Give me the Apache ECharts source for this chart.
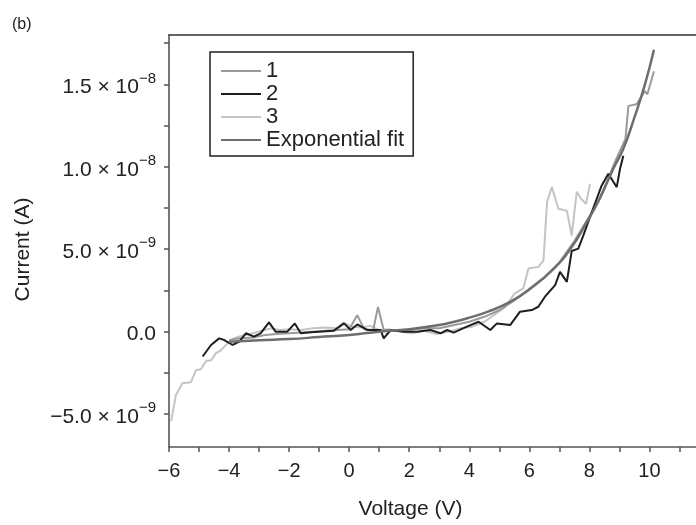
<!DOCTYPE html>
<html>
<head>
  <meta charset="utf-8" />
  <title>I-V curve</title>
  <script src="https://cdn.jsdelivr.net/npm/echarts@6.0.0/dist/echarts.min.js"></script>
  <style>
    html, body { margin: 0; padding: 0; background: #fff; }
    #chart { width: 696px; height: 525px; }
  </style>
</head>
<body>
  <div id="chart"></div>
  <script type="text/javascript">
    // current values are in units of 1e-9 A
    const legendNames = ["1", "2", "3", "Exponential fit"]

    const series1 = [
      [-4.0, -0.5], [-3.6, -0.4], [-3.2, -0.35], [-2.8, -0.2], [-2.4, -0.15], [-2.0, -0.1],
      [-1.6, -0.05], [-1.2, 0], [-0.8, 0.05], [-0.4, 0.1], [0, 0.15], [0.27, 1.0], [0.5, 0.15],
      [0.8, 0.1], [0.96, 1.5], [1.15, 0.1], [1.5, 0.05], [2.0, 0.1], [2.5, 0.2], [3.0, 0.2],
      [3.5, 0.4], [4.0, 0.6], [4.5, 0.9], [5.0, 1.3], [5.5, 1.9], [6.0, 2.6], [6.5, 3.3],
      [7.0, 4.2], [7.5, 5.5], [8.0, 7.0], [8.3, 7.9], [8.6, 9.2], [8.9, 10.5], [9.2, 11.7],
      [9.3, 13.7], [9.57, 13.8], [9.85, 14.6], [9.93, 14.4], [10.15, 15.8]
    ]

    const series2 = [
      [-4.88, -1.51], [-4.6, -0.81], [-4.33, -0.41], [-4.16, -0.51], [-3.88, -0.81], [-3.66, -0.6],
      [-3.44, -0.1], [-3.17, -0.3], [-2.95, -0.1], [-2.67, 0.56], [-2.45, 0], [-2.06, 0],
      [-1.81, 0.5], [-1.61, -0.1], [-1.28, -0.04], [-0.51, 0.06], [-0.17, 0.5], [0.05, 0.1],
      [0.27, 0.44], [0.6, 0.1], [1.05, 0.1], [1.15, -0.41], [1.38, 0.1], [1.82, 0], [2.26, 0],
      [2.7, 0.1], [3.04, -0.1], [3.26, 0.1], [3.48, -0.06], [3.92, 0.3], [4.31, 0.6], [4.7, 0.1],
      [4.92, 0.5], [5.36, 0.4], [5.69, 1.21], [6.08, 1.31], [6.3, 1.51], [6.52, 2.12], [6.86, 2.82],
      [7.02, 3.63], [7.25, 3.02], [7.41, 4.89], [7.63, 5.04], [7.8, 5.84], [8.08, 7.26],
      [8.41, 8.87], [8.63, 9.58], [8.91, 8.77], [9.02, 9.88], [9.13, 10.68]
    ]

    const series3 = [
      [-5.93, -5.43], [-5.77, -3.85], [-5.55, -3.13], [-5.27, -3.07], [-5.1, -2.34], [-4.94, -2.28],
      [-4.77, -1.8], [-4.6, -1.74], [-4.44, -1.31], [-4.27, -1.13], [-4.05, -0.71], [-3.84, -0.4],
      [-3.51, -0.22], [-3.2, -0.1], [-2.9, 0.05], [-2.6, 0.2], [-2.3, 0.1], [-2.0, 0.15],
      [-1.6, 0.1], [-1.2, 0.2], [-0.8, 0.25], [-0.4, 0.2], [-0.2, 0.55], [0.1, 0.3], [0.4, 0.25],
      [0.7, 0.35], [1.0, 0.1], [1.3, 0.15], [1.7, 0], [2.1, -0.1], [2.5, 0.05], [2.9, -0.15],
      [3.3, 0], [3.7, 0.2], [4.1, 0.3], [4.5, 0.6], [4.9, 1.1], [5.2, 1.5], [5.5, 2.3],
      [5.8, 2.62], [5.97, 3.83], [6.3, 3.93], [6.47, 4.31], [6.59, 7.86], [6.75, 8.77],
      [6.97, 7.46], [7.25, 7.34], [7.41, 5.83], [7.58, 8.49], [7.72, 8.06], [7.89, 7.76], [8.02, 8.97]
    ]

    const fitCurve = [
      [-4.0, -0.62], [-3.0, -0.52], [-2.0, -0.45], [-1.0, -0.33], [0, -0.2], [1.0, 0], [2.0, 0.15],
      [3.0, 0.4], [3.5, 0.6], [4.0, 0.85], [4.6, 1.2], [5.36, 1.8], [6.03, 2.6], [6.8, 3.8],
      [7.36, 5.0], [7.9, 6.6], [8.35, 8.1], [8.8, 9.9], [9.13, 11.1], [9.5, 13.0], [9.85, 15.0],
      [10.15, 17.1]
    ]

    const xTickValues = [-6, -5, -4, -3, -2, -1, 0, 1, 2, 3, 4, 5, 6, 7, 8, 9, 10, 11]
    const xLabelValues = [-6, -4, -2, 0, 2, 4, 6, 8, 10]
    const yTickValues = [-5, -2.5, 0, 2.5, 5, 7.5, 10, 12.5, 15, 17.5]
    const yLabelValues = [-5, 0, 5, 10, 15]
    const yLabelTexts = [["−5.0", "−9"], ["0.0", ""], ["5.0", "−9"], ["1.0", "−8"], ["1.5", "−8"]]

    const font = "'Liberation Sans', Arial, Helvetica, sans-serif"
    const axisColor = "#555"

    function fmtX(v) {
      return v < 0 ? "−" + -v : String(v)
    }

    function fmtY(v) {
      let idx = yLabelValues.indexOf(v)
      if (idx < 0) return ""
      let t = yLabelTexts[idx]
      if (!t[1]) return "{b|" + t[0] + "}"
      return "{b|" + t[0] + " × 10}{s|" + t[1] + "}"
    }

    let myChart = echarts.init(document.getElementById("chart"), null, { renderer: "canvas" })

    let option = {
      backgroundColor: "#fff",
      animation: false,
      textStyle: { fontFamily: font, color: "#222" },
      graphic: [
        {
          type: "text",
          left: 12,
          top: 17,
          style: { text: "(b)", fontSize: 16, fontFamily: font, fill: "#222" }
        }
      ],
      legend: {
        data: legendNames,
        orient: "vertical",
        left: 210,
        top: 52,
        padding: [8, 9, 5, 10],
        itemWidth: 40,
        itemHeight: 14,
        itemGap: 1,
        borderColor: "#222",
        borderWidth: 1.5,
        itemStyle: { opacity: 0 },
        textStyle: { fontSize: 22, fontFamily: font, color: "#222", lineHeight: 22 }
      },
      grid: {
        left: 169,
        top: 35,
        right: 0,
        bottom: 77
      },
      xAxis: [
        {
          type: "value",
          min: -6,
          max: 11.55,
          name: "Voltage (V)",
          nameLocation: "middle",
          nameGap: 52,
          nameTextStyle: { fontSize: 21, fontFamily: font, color: "#222", padding: [0, 44, 0, 0] },
          axisLine: { onZero: false, lineStyle: { color: axisColor, width: 1.6 } },
          axisTick: { customValues: xTickValues, length: 5, inside: false, lineStyle: { color: axisColor, width: 1.5 } },
          axisLabel: { customValues: xLabelValues, formatter: fmtX, fontSize: 20, color: "#222", margin: 14 },
          splitLine: { show: false }
        },
        {
          type: "value",
          position: "top",
          min: -6,
          max: 11.55,
          axisLine: { show: true, onZero: false, lineStyle: { color: "#333", width: 1.6 } },
          axisTick: { show: false },
          axisLabel: { show: false },
          splitLine: { show: false }
        }
      ],
      yAxis: {
        type: "value",
        min: -7,
        max: 18,
        name: "Current (A)",
        nameLocation: "middle",
        nameGap: 135,
        nameTextStyle: { fontSize: 21, fontFamily: font, color: "#222", padding: [0, 17, 0, 0] },
        axisLine: { show: true, onZero: false, lineStyle: { color: axisColor, width: 1.6 } },
        axisTick: { customValues: yTickValues, length: 5, inside: false, lineStyle: { color: axisColor, width: 1.5 } },
        axisLabel: {
          customValues: yLabelValues,
          formatter: fmtY,
          margin: 13,
          rich: {
            b: { fontSize: 21, fontFamily: font, color: "#222", lineHeight: 27, verticalAlign: "bottom" },
            s: { fontSize: 15, fontFamily: font, color: "#222", lineHeight: 16, verticalAlign: "top" }
          }
        },
        splitLine: { show: false }
      },
      series: [
        {
          name: legendNames[0],
          type: "line",
          data: series1,
          symbol: "none",
          lineStyle: { color: "#9a9a9a", width: 2 },
          itemStyle: { color: "#9a9a9a" },
          z: 3
        },
        {
          name: legendNames[1],
          type: "line",
          data: series2,
          symbol: "none",
          lineStyle: { color: "#1e1e1e", width: 2 },
          itemStyle: { color: "#1e1e1e" },
          z: 4
        },
        {
          name: legendNames[2],
          type: "line",
          data: series3,
          symbol: "none",
          lineStyle: { color: "#c4c4c4", width: 2 },
          itemStyle: { color: "#c4c4c4" },
          z: 2
        },
        {
          name: legendNames[3],
          type: "line",
          data: fitCurve,
          symbol: "none",
          smooth: true,
          lineStyle: { color: "#6e6e6e", width: 2.5 },
          itemStyle: { color: "#6e6e6e" },
          z: 5
        }
      ]
    }
    myChart.setOption(option, true)
  </script>
</body>
</html>
